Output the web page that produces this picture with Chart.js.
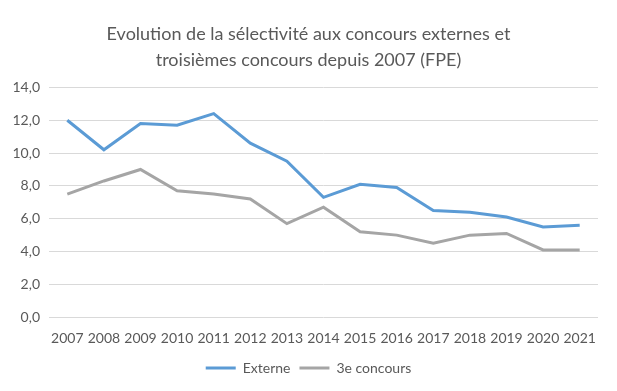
<!DOCTYPE html>
<html>
<head>
<meta charset="utf-8">
<script src="https://cdn.jsdelivr.net/npm/chart.js@4"></script>
<style>
  html, body { margin: 0; padding: 0; background: #fff; }
  #wrap { width: 617px; height: 391px; }
</style>
</head>
<body>
<div id="wrap"><canvas id="myChart"></canvas></div>
<script>
const years = ['2007', '2008', '2009', '2010', '2011', '2012', '2013', '2014',
    '2015', '2016', '2017', '2018', '2019', '2020', '2021'];
const externe = [12.0, 10.2, 11.8, 11.7, 12.4, 10.6, 9.5, 7.3, 8.1, 7.9, 6.5, 6.4, 6.1, 5.5, 5.6];
const troisieme = [7.5, 8.3, 9.0, 7.7, 7.5, 7.2, 5.7, 6.7, 5.2, 5.0, 4.5, 5.0, 5.1, 4.1, 4.1];
const titleLines = ['Evolution de la sélectivité aux concours externes et',
    'troisièmes concours depuis 2007 (FPE)'];

const ctx = document.getElementById('myChart');
const textColor = '#595959';
const fontFamily = 'Lato, "Open Sans", sans-serif';

let chart = new Chart(ctx, {
    type: 'line',
    data: {
        labels: years,
        datasets: [{
            label: 'Externe',
            data: externe,
            borderColor: '#5B9BD5',
            backgroundColor: '#5B9BD5',
            borderWidth: 3,
            pointRadius: 0,
            tension: 0
        }, {
            label: '3e concours',
            data: troisieme,
            borderColor: '#A5A5A5',
            backgroundColor: '#A5A5A5',
            borderWidth: 3,
            pointRadius: 0,
            tension: 0
        }]
    },
    options: {
        maintainAspectRatio: false,
        responsive: true,
        animation: false,
        layout: {
            padding: { left: 4, right: 4, top: 14, bottom: 6 }
        },
        plugins: {
            title: {
                display: true,
                text: titleLines,
                color: textColor,
                font: { family: fontFamily, size: 18, weight: 'normal', lineHeight: 1.4 },
                padding: { top: 8, bottom: 15 }
            },
            legend: {
                position: 'bottom',
                labels: {
                    color: textColor,
                    font: { family: fontFamily, size: 14 },
                    usePointStyle: true,
                    pointStyle: 'line',
                    pointStyleWidth: 30,
                    padding: 9
                }
            },
            tooltip: { enabled: false }
        },
        scales: {
            x: {
                offset: true,
                grid: { display: false },
                border: { display: false },
                ticks: {
                    color: textColor,
                    font: { family: fontFamily, size: 14 },
                    maxRotation: 0,
                    autoSkip: false,
                    padding: 5
                }
            },
            y: {
                min: 0,
                max: 14,
                border: { display: false },
                grid: { color: '#D9D9D9', drawTicks: false },
                afterFit: scale => { scale.width = 45; },
                ticks: {
                    stepSize: 2,
                    padding: 9,
                    color: textColor,
                    font: { family: fontFamily, size: 14 },
                    callback: v => v.toFixed(1).replace('.', ',')
                }
            },
            // empty right axis, only keeps the right margin so the title stays centred
            y2: {
                position: 'right',
                display: true,
                grid: { display: false },
                border: { display: false },
                ticks: { display: false },
                afterFit: scale => { scale.width = 15; }
            }
        }
    }
});
</script>
</body>
</html>
